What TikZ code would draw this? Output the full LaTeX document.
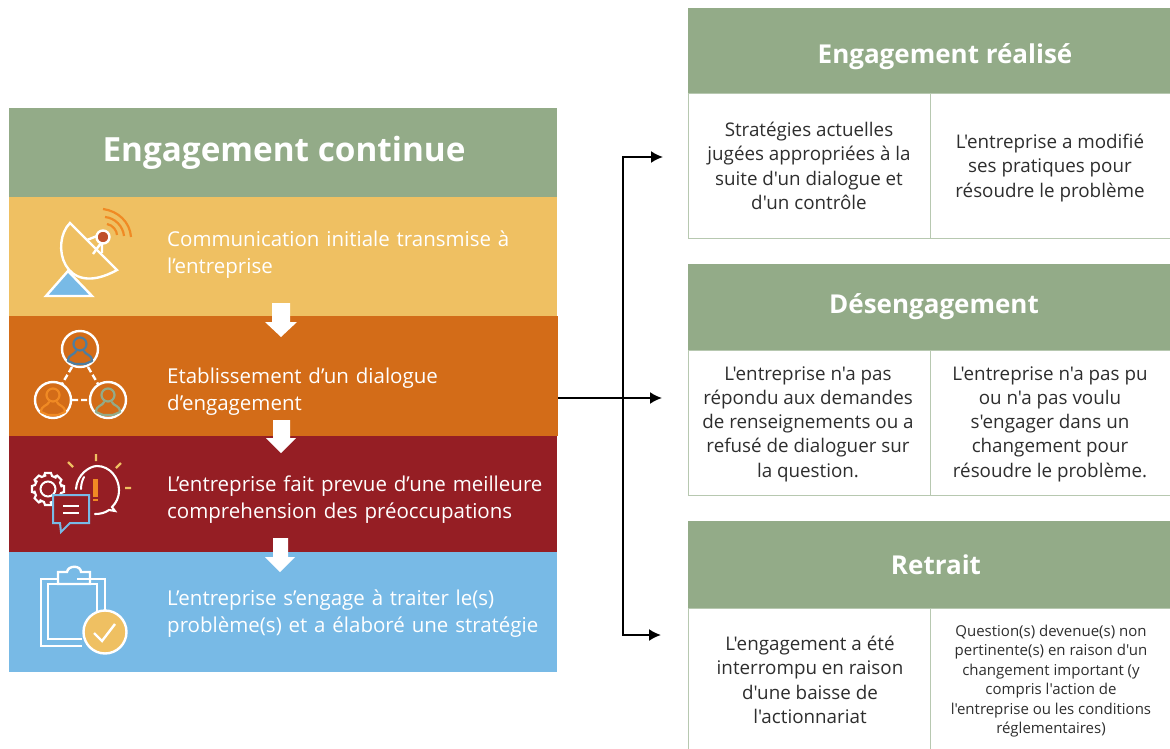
\documentclass[tikz,border=0pt]{standalone}
\usepackage{fontspec}
\setmainfont{Open Sans}[Ligatures=TeXOff]
\usetikzlibrary{arrows.meta}
\definecolor{hgreen}{HTML}{93AB88}
\definecolor{lgreen}{HTML}{B7C8B0}
\definecolor{byellow}{HTML}{EFC062}
\definecolor{borange}{HTML}{D36C18}
\definecolor{bred}{HTML}{951E24}
\definecolor{bblue}{HTML}{78BAE6}
\definecolor{wave}{HTML}{F08A24}
\definecolor{dotred}{HTML}{C0502A}
\definecolor{steel}{HTML}{4E7D9E}
\newcommand{\personicon}[3]{%
  \draw[#3,line width=2.2pt] (#1,#2-4) circle (6.5);
  \draw[#3,line width=2.2pt,line cap=round,line join=round] (#1-4,#2+3) .. controls (#1-5,#2+7) and (#1-12,#2+6) .. (#1-12,#2+13) -- (#1-5,#2+16) -- (#1+5,#2+16) -- (#1+12,#2+13) .. controls (#1+12,#2+6) and (#1+5,#2+7) .. (#1+4,#2+3);
}
\tikzset{
  x=1pt,y=-1pt,
  band/.style={draw=none,minimum width=#1,anchor=north west,inner sep=0pt,outer sep=0pt},
  bandtext/.style={text=white,font=\fontsize{20.5}{27}\selectfont,align=left,anchor=west,inner sep=0pt,text width=395pt},
  hdr/.style={fill=hgreen,text=white,font=\bfseries\fontsize{26}{30}\selectfont,minimum width=482pt,anchor=north west,inner sep=0pt,outer sep=0pt},
  cell/.style={draw=lgreen,line width=1pt,anchor=north west,inner sep=0pt,outer sep=0pt},
  celltext/.style={text=black!82,font=\fontsize{18.8}{24.3}\selectfont,align=center,anchor=center,inner sep=0pt},
  downarrow/.style={fill=white,draw=none},
  conn/.style={draw=black,line width=1.9pt},
  connarrow/.style={conn,-{Latex[length=12pt,width=12pt]}},
  iconline/.style={draw=white,line width=2.4pt},
}
\begin{document}
\begin{tikzpicture}
\useasboundingbox (0,0) rectangle (1170,749);
\fill[white] (0,0) rectangle (1170,749);

% left column
\node[band=548pt,fill=hgreen,minimum height=89pt,text=white,font=\bfseries\fontsize{33.3}{38}\selectfont] (h0) at (9,108) {\hspace*{2pt}Engagement continue};
\node[band=548pt,fill=byellow,minimum height=119pt] (b1) at (9,197) {};
\node[band=549pt,fill=borange,minimum height=120pt] (b2) at (9,316) {};
\node[band=548pt,fill=bred,minimum height=116pt] (b3) at (9,436) {};
\node[band=548pt,fill=bblue,minimum height=120pt] (b4) at (9,552) {};

\node[bandtext] (t1) at (167,255) {Communication initiale transmise à\\l’entreprise};
\node[bandtext] (t2) at (167,392) {Etablissement d’un dialogue\\d’engagement};
\node[bandtext] (t3) at (167,500) {L’entreprise fait prevue d’une meilleure\\comprehension des préoccupations};
\node[bandtext] (t4) at (167,614) {L’entreprise s’engage à traiter le(s)\\problème(s) et a élaboré une stratégie};

% white arrows
\fill[downarrow] (272,303) -- (290,303) -- (290,322) -- (297,322) -- (281,337) -- (265,322) -- (272,322) -- cycle;
\fill[downarrow] (273,420) -- (290,420) -- (290,438) -- (296,438) -- (281,453) -- (266,438) -- (273,438) -- cycle;
\fill[downarrow] (273,538) -- (288,538) -- (288,557) -- (295,557) -- (280,572) -- (265,557) -- (273,557) -- cycle;

% icon: dish
\draw[iconline,fill=bblue] (68,271) -- (46,296) -- (92,296) -- cycle;
\draw[iconline] (70,223) .. controls (50,243) and (63,300) .. (117,270) -- cycle;
\draw[iconline] (87,240) -- (97,236) (93,254) -- (101,243) (102,243) -- (102,253);
\draw[draw=white,line width=2.4pt,fill=dotred] (103,237) circle (6.5);
\draw[wave,line width=2.2pt] (107,224) .. controls (113,225) and (117,231) .. (117,235);
\draw[wave,line width=2.2pt] (105,217) .. controls (115,218) and (123,226) .. (124,236);
\draw[wave,line width=2.2pt] (103,209) .. controls (118,211) and (130,222) .. (131,237);

% icon: team
\draw[iconline] (80,349) circle (18);
\draw[iconline] (53,400) circle (18);
\draw[iconline] (108,400) circle (18);
\draw[iconline,dash pattern=on 6pt off 3pt] (72,367) -- (62,384) (88,367) -- (98,384) (72,400) -- (89,400);
\personicon{80}{348}{steel}
\personicon{53}{399}{wave}
\personicon{108}{399}{hgreen}

% icon: gear, bulb, chat
\draw[iconline,line width=2pt] (48,489) circle (7.5);
\foreach \a in {0,45,...,315}{
  \draw[white,line width=2.1pt,rotate around={\a:(48,489)}] (44,476) -- (45,473) -- (51,473) -- (52,476) -- (56.5,478);
}
\draw[iconline,line cap=round,line width=2.1pt] (76,489) .. controls (77,474) and (90,466) .. (97,466) .. controls (110,466) and (119,478) .. (119,490) .. controls (119,498) and (116,503) .. (112,507) -- (115,511) -- (109,510) .. controls (105,513) and (100,514) .. (95,514);
\draw[iconline,line width=2pt,line cap=round] (81,489) .. controls (81,483) and (83,479) .. (84,477);
\fill[wave] (93,479) rectangle (98,497);
\fill[wave] (93,499) rectangle (98,501);
\draw[byellow,line width=2.2pt] (96,454) -- (96,461) (68,462) -- (73,467) (121,463) -- (116,468) (125,488) -- (131,488);
\draw[bblue,fill=bred,line width=2pt] (53,495) -- (89,495) -- (89,523) -- (70,523) -- (61,532) -- (60,523) -- (53,523) -- cycle;
\draw[white,line width=2.2pt] (63,506) -- (79,506) (63,513) -- (79,513);

% icon: clipboard
\draw[iconline] (77,579) -- (105,579) -- (105,625) (82,646) -- (41,646) -- (41,579) -- (58,579);
\draw[iconline] (58,584) -- (48,584) -- (48,639) -- (82,639) (90,584) -- (97,584) -- (97,615);
\draw[iconline] (58,584) -- (58,572) -- (67,572) .. controls (68,565) and (81,565) .. (81,572) -- (90,572) -- (90,584) -- cycle;
\draw[draw=white,line width=2.4pt,fill=byellow] (105,632) circle (21.5);
\draw[white,line width=2.4pt] (94,633) -- (102,641) -- (115,624);

% right tables
\node[hdr,minimum height=86pt] (r1) at (688,8) {\hspace*{32pt}\raisebox{-13pt}[0pt][0pt]{Engagement réalisé}};
\node[hdr,minimum height=86pt] (r2) at (688,264) {\hspace*{10pt}Désengagement};
\node[hdr,minimum height=87pt] (r3) at (688,521) {\hspace*{14pt}Retrait};

\node[cell,minimum width=242pt,minimum height=144pt] (c11) at (688,94) {};
\node[cell,minimum width=241pt,minimum height=144pt] (c12) at (930,94) {};
\node[cell,minimum width=242pt,minimum height=145pt] (c21) at (688,350) {};
\node[cell,minimum width=241pt,minimum height=145pt] (c22) at (930,350) {};
\node[cell,minimum width=242pt,minimum height=141pt] (c31) at (688,608) {};
\node[cell,minimum width=241pt,minimum height=141pt] (c32) at (930,608) {};

\node[celltext] (x11) at (809,166) {Stratégies actuelles\\jugées appropriées à la\\suite d'un dialogue et\\d'un contrôle};
\node[celltext] (x12) at (1050,168) {L'entreprise a modifié\\ses pratiques pour\\résoudre le problème};
\node[celltext] (x21) at (808,424) {L'entreprise n'a pas\\répondu aux demandes\\de renseignements ou a\\refusé de dialoguer sur\\la question.};
\node[celltext] (x22) at (1050,424) {L'entreprise n'a pas pu\\ou n'a pas voulu\\s'engager dans un\\changement pour\\résoudre le problème.};
\node[celltext] (x31) at (810,680) {L'engagement a été\\interrompu en raison\\d'une baisse de\\l'actionnariat};
\node[celltext,font=\fontsize{15}{19.5}\selectfont] (x32) at (1051,681) {Question(s) devenue(s) non\\pertinente(s) en raison d'un\\changement important (y\\compris l'action de\\l'entreprise ou les conditions\\réglementaires)};

% connectors
\coordinate (trunk) at (623,398);
\coordinate (a1) at (663,157);
\coordinate (a2) at (662,398);
\coordinate (a3) at (661,635);
\draw[connarrow] (b2.east |- trunk) -- (a2);
\draw[connarrow] (trunk) |- (a1);
\draw[connarrow] (trunk) |- (a3);
\end{tikzpicture}
\end{document}
